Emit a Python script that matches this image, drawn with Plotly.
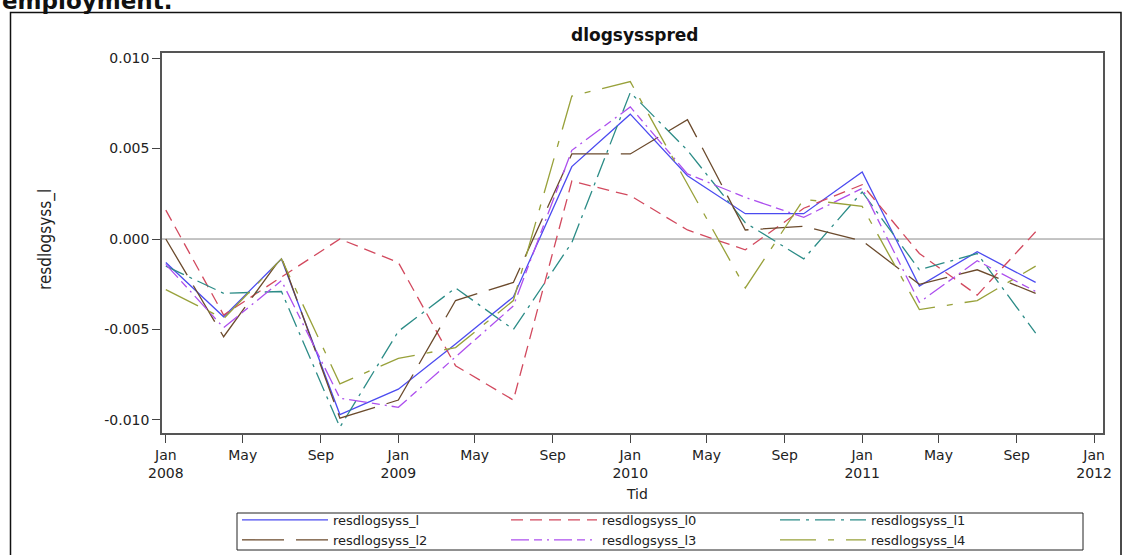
import plotly.graph_objects as go

# Quarterly observation dates
quarters = [
    "2008-01-01", "2008-04-01", "2008-07-01", "2008-10-01",
    "2009-01-01", "2009-04-01", "2009-07-01", "2009-10-01",
    "2010-01-01", "2010-04-01", "2010-07-01", "2010-10-01",
    "2011-01-01", "2011-04-01", "2011-07-01", "2011-10-01",
]

# Residual series
resdlogsyss_l = [-0.0013, -0.0043, -0.0011, -0.0097, -0.0083, -0.0058, -0.0032, 0.0040,
                 0.0069, 0.0035, 0.0014, 0.0014, 0.0037, -0.0026, -0.0007, -0.0024]
resdlogsyss_l0 = [0.0016, -0.0042, -0.0021, 0.0000, -0.0013, -0.0070, -0.0089, 0.0032,
                  0.0024, 0.0005, -0.0006, 0.0017, 0.0030, -0.0008, -0.0031, 0.0004]
resdlogsyss_l1 = [-0.0015, -0.0030, -0.0029, -0.0104, -0.0051, -0.0027, -0.0050, -0.0002,
                  0.0081, 0.0049, 0.0009, -0.0011, 0.0026, -0.0017, -0.0008, -0.0052]
resdlogsyss_l2 = [0.0000, -0.0054, -0.0010, -0.0099, -0.0089, -0.0034, -0.0024, 0.0047,
                  0.0047, 0.0066, 0.0005, 0.0007, -0.0001, -0.0025, -0.0017, -0.0030]
resdlogsyss_l3 = [-0.0014, -0.0049, -0.0023, -0.0088, -0.0093, -0.0065, -0.0037, 0.0049,
                  0.0073, 0.0036, 0.0023, 0.0012, 0.0028, -0.0035, -0.0012, -0.0029]
resdlogsyss_l4 = [-0.0028, -0.0044, -0.0011, -0.0080, -0.0066, -0.0060, -0.0034, 0.0079,
                  0.0087, 0.0030, -0.0027, 0.0022, 0.0018, -0.0039, -0.0034, -0.0015]

series_names = ["resdlogsyss_l", "resdlogsyss_l0", "resdlogsyss_l1",
                "resdlogsyss_l2", "resdlogsyss_l3", "resdlogsyss_l4"]
series_values = [resdlogsyss_l, resdlogsyss_l0, resdlogsyss_l1,
                 resdlogsyss_l2, resdlogsyss_l3, resdlogsyss_l4]

# Axis ticks
x_tickvals = ["2008-01-01", "2008-05-01", "2008-09-01", "2009-01-01", "2009-05-01",
              "2009-09-01", "2010-01-01", "2010-05-01", "2010-09-01", "2011-01-01",
              "2011-05-01", "2011-09-01", "2012-01-01"]
x_ticktext = ["Jan<br>2008", "May", "Sep", "Jan<br>2009", "May", "Sep", "Jan<br>2010",
              "May", "Sep", "Jan<br>2011", "May", "Sep", "Jan<br>2012"]
y_tickvals = [0.010, 0.005, 0.000, -0.005, -0.010]
y_ticktext = ["0.010", "0.005", "0.000", "-0.005", "-0.010"]

# Line styles per series
colors = ["#4B4BF0", "#D2495E", "#2C8C87", "#6B4A2C", "#AD4FEE", "#98A13A"]
dashes = ["solid", "12px,7px", "20px,6px,3px,6px", "42px,12px",
          "18px,5px,8px,5px,2px,5px", "36px,12px,6px,12px"]

FONT = "DejaVu Sans, Verdana, sans-serif"
W, H = 1123, 555
ML, MR, MT, MB = 162, 20, 53, 122
PW, PH = W - ML - MR, H - MT - MB


def px_x(p):
    return (p - ML) / PW


def px_y(p):
    return (H - MB - p) / PH


fig = go.Figure()
for name, vals, col, dash in zip(series_names, series_values, colors, dashes):
    fig.add_trace(go.Scatter(
        x=quarters, y=vals, name=name, mode="lines",
        line=dict(color=col, width=1.3, dash=dash),
    ))

fig.update_layout(
    width=W, height=H,
    margin=dict(l=ML, r=MR, t=MT, b=MB, pad=0, autoexpand=False),
    paper_bgcolor="white", plot_bgcolor="white",
    font=dict(family=FONT, size=14, color="#222"),
    showlegend=True,
    legend=dict(
        orientation="h", x=px_x(237), y=px_y(505), xanchor="left", yanchor="top",
        borderwidth=0, bgcolor="rgba(0,0,0,0)",
        font=dict(family=FONT, size=13, color="#222"),
        itemwidth=86, entrywidth=168, entrywidthmode="pixels",
        traceorder="normal", tracegroupgap=0,
    ),
    xaxis=dict(
        type="date", range=["2007-12-26", "2012-01-15"],
        tickvals=x_tickvals, ticktext=x_ticktext,
        ticks="outside", ticklen=8, tickwidth=1, tickcolor="#444",
        showline=True, linecolor="#555", linewidth=1.5, mirror=True,
        showgrid=False, zeroline=False,
        tickfont=dict(family=FONT, size=14, color="#222"),
    ),
    yaxis=dict(
        range=[-0.01072, 0.01028],
        tickvals=y_tickvals, ticktext=y_ticktext,
        ticks="outside", ticklen=8, tickwidth=1, tickcolor="#444",
        showline=True, linecolor="#555", linewidth=1.5, mirror=True,
        showgrid=False, zeroline=False,
        tickfont=dict(family=FONT, size=14, color="#222"),
    ),
    shapes=[
        dict(type="line", xref="paper", yref="y", x0=0, x1=1, y0=0, y1=0,
             line=dict(color="#8a8a8a", width=1), layer="below"),
        # outer frame
        dict(type="rect", xref="paper", yref="paper",
             x0=px_x(10.5), x1=px_x(1121), y0=px_y(600), y1=px_y(12.5),
             line=dict(color="#111", width=1.5), layer="above"),
        # legend frame
        dict(type="rect", xref="paper", yref="paper",
             x0=px_x(237), x1=px_x(1083), y0=px_y(550), y1=px_y(513),
             line=dict(color="#222", width=1), layer="above"),
    ],
    annotations=[
        dict(text="<b>employment.</b>", xref="paper", yref="paper",
             x=px_x(0), y=px_y(0.5), xanchor="left", yanchor="middle", showarrow=False,
             font=dict(family=FONT, size=23, color="#111")),
        dict(text="<b>dlogsysspred</b>", xref="paper", yref="paper",
             x=px_x(635), y=px_y(35), xanchor="center", yanchor="middle", showarrow=False,
             font=dict(family=FONT, size=17, color="#111")),
        dict(text="resdlogsyss_l", xref="paper", yref="paper",
             x=px_x(45), y=px_y(240), xanchor="center", yanchor="middle", showarrow=False,
             textangle=-90,
             font=dict(family="Liberation Sans Narrow, DejaVu Sans Condensed, sans-serif",
                       size=17, color="#222")),
        dict(text="Tid", xref="paper", yref="paper",
             x=px_x(637), y=px_y(494), xanchor="center", yanchor="middle", showarrow=False,
             font=dict(family=FONT, size=14, color="#222")),
    ],
)

fig.write_html("out.html")
